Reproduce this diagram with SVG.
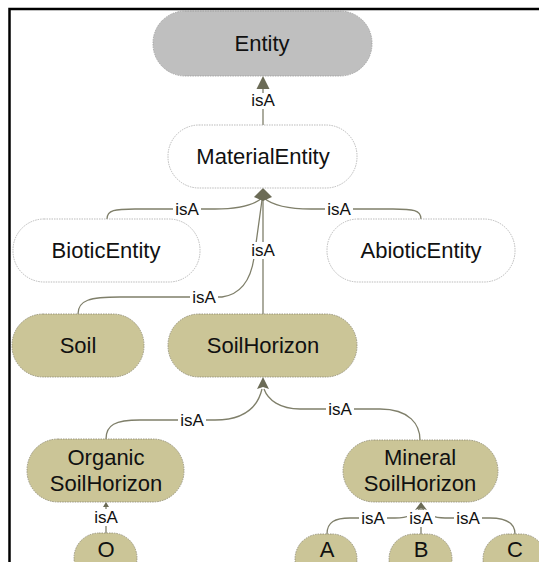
<svg xmlns="http://www.w3.org/2000/svg" width="539" height="562" viewBox="0 0 539 562">
<style>
.n text{font-family:"Liberation Sans",Arial,sans-serif;font-size:22px;fill:#111;text-anchor:middle}
.w{fill:#fff;stroke:#aaa;stroke-width:0.8;stroke-dasharray:1.5 1}
.g{fill:#bfbfbf;stroke:#999;stroke-width:0.8;stroke-dasharray:1.5 1}
.t{fill:#cbc597;stroke:#8a8770;stroke-width:0.8;stroke-dasharray:1.5 1}
.e path{fill:none;stroke:#7f7f6a;stroke-width:1.3}
.e polygon{fill:#6b6b56;stroke:none}
.l rect{fill:#fff}
.l text{font-family:"Liberation Sans",Arial,sans-serif;font-size:17px;fill:#111;text-anchor:middle}
</style>
<rect width="539" height="562" fill="#fff"/>
<path d="M9.5,562 V9 H539" fill="none" stroke="#000" stroke-width="2.5"/>
<g id="connectors" class="e">
<path d="M263,125 V88"/>
<polygon points="263,76 256.5,89 269.5,89"/>
<path d="M107,219 C107,210 115,209 135,209 L215,209 C238,209 254,205 262,198"/>
<path d="M421,219 C421,210 413,209 393,209 L311,209 C288,209 272,205 264,198"/>
<path d="M78,314 C78,300 90,297 120,297 L222,297 C243,294 251,278 254,258 C257,236 260,215 262,200"/>
<path d="M263,314 V200"/>
<polygon points="263,188 254,197 263,201 272,197"/>
<path d="M106,439 C106,425 115,420 140,420 L215,420 C245,420 258,406 262,389"/>
<path d="M420,440 C420,425 410,409 380,409 L300,409 C280,409 268,400 264,389"/>
<polygon points="263,377 257,389 263,387 269,389"/>
<path d="M106,533 V506"/>
<polygon points="106,502 103,507 109,507"/>
<path d="M327,534 C327,522 335,518 350,518 L395,518 C410,518 417,513 420,508"/>
<path d="M421,534 V508"/>
<path d="M515,534 C515,522 505,518 490,518 L445,518 C432,518 425,513 422,508"/>
<polygon points="421,502 415,510 421,508 427,510"/>
</g>
<g id="labels" class="l">
<rect x="249" y="93" width="28" height="16"/><text x="263" y="106">isA</text>
<rect x="173" y="201" width="28" height="17"/><text x="187" y="215">isA</text>
<rect x="325" y="201" width="28" height="17"/><text x="339" y="215">isA</text>
<rect x="249" y="242" width="28" height="17"/><text x="263" y="256">isA</text>
<rect x="190" y="289" width="28" height="17"/><text x="204" y="303">isA</text>
<rect x="178" y="412" width="28" height="17"/><text x="192" y="426">isA</text>
<rect x="326" y="401" width="28" height="17"/><text x="340" y="415">isA</text>
<rect x="92" y="509" width="28" height="17"/><text x="106" y="523">isA</text>
<rect x="359" y="510" width="28" height="17"/><text x="373" y="524">isA</text>
<rect x="407" y="510" width="28" height="17"/><text x="421" y="524">isA</text>
<rect x="454" y="510" width="28" height="17"/><text x="468" y="524">isA</text>
</g>
<g id="Entity" class="n"><rect class="g" x="153" y="11" width="219" height="65" rx="32"/><text x="262" y="51">Entity</text></g>
<g id="MaterialEntity" class="n"><rect class="w" x="168" y="125" width="189" height="63" rx="31"/><text x="263" y="164">MaterialEntity</text></g>
<g id="BioticEntity" class="n"><rect class="w" x="13" y="219" width="187" height="63" rx="31"/><text x="106" y="258">BioticEntity</text></g>
<g id="AbioticEntity" class="n"><rect class="w" x="327" y="219" width="188" height="63" rx="31"/><text x="421" y="258">AbioticEntity</text></g>
<g id="Soil" class="n"><rect class="t" x="12" y="314" width="132" height="63" rx="31"/><text x="78" y="353">Soil</text></g>
<g id="SoilHorizon" class="n"><rect class="t" x="168" y="314" width="189" height="63" rx="31"/><text x="263" y="353">SoilHorizon</text></g>
<g id="OrganicSoilHorizon" class="n"><rect class="t" x="27" y="439" width="157" height="63" rx="31"/><text x="106" y="465">Organic</text><text x="106" y="491">SoilHorizon</text></g>
<g id="MineralSoilHorizon" class="n"><rect class="t" x="343" y="440" width="155" height="62" rx="31"/><text x="420" y="465">Mineral</text><text x="420" y="491">SoilHorizon</text></g>
<g id="O" class="n"><rect class="t" x="74" y="533" width="63" height="50" rx="25"/><text x="106" y="557">O</text></g>
<g id="A" class="n"><rect class="t" x="295" y="534" width="62" height="50" rx="25"/><text x="327" y="557">A</text></g>
<g id="B" class="n"><rect class="t" x="389" y="534" width="63" height="50" rx="25"/><text x="421" y="557">B</text></g>
<g id="C" class="n"><rect class="t" x="483" y="534" width="63" height="50" rx="25"/><text x="515" y="557">C</text></g>
</svg>
